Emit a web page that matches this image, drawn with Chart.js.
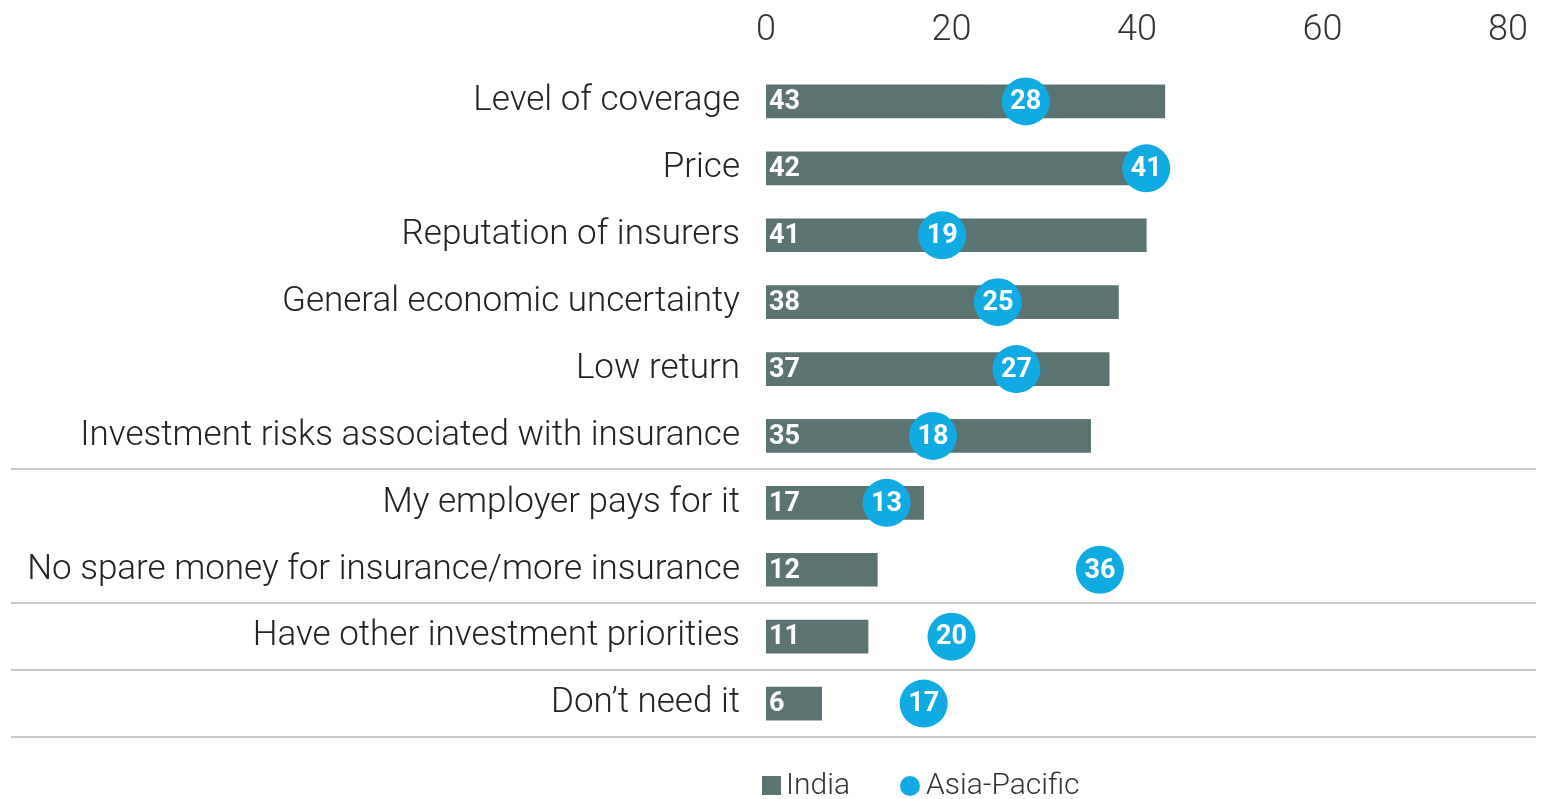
<!DOCTYPE html>
<html>
<head>
<meta charset="utf-8">
<title>Reasons for not buying insurance</title>
<script src="https://cdn.jsdelivr.net/npm/chart.js@4.4.1/dist/chart.umd.min.js"></script>
<style>
  html, body { margin: 0; padding: 0; background: #fff; overflow: hidden; }
  canvas { display: block; }
</style>
</head>
<body>
<canvas id="chart" width="1546" height="799"></canvas>
<script>
const categories = [
  'Level of coverage',
  'Price',
  'Reputation of insurers',
  'General economic uncertainty',
  'Low return',
  'Investment risks associated with insurance',
  'My employer pays for it',
  'No spare money for insurance/more insurance',
  'Have other investment priorities',
  'Don\u2019t need it'
];
const india = [43, 42, 41, 38, 37, 35, 17, 12, 11, 6];
const asiaPacific = [28, 41, 19, 25, 27, 18, 13, 36, 20, 17];
const xTicks = [0, 20, 40, 60, 80];
// separator lines drawn after these category indexes
const groupBreaks = [5, 7, 8, 9];

const BAR = '#5b7472';
const DOT = '#10abe3';
const FONT = 'Roboto, "Liberation Sans", sans-serif';

// value labels on bars and dots, group separators, custom legend
const decorations = {
  id: 'decorations',
  afterDatasetsDraw(chart) {
    const ctx = chart.ctx;
    const y = chart.scales.y;
    const bars = chart.getDatasetMeta(0).data;

    ctx.save();
    ctx.strokeStyle = '#c8c8c8';
    ctx.lineWidth = 2;
    groupBreaks.forEach(i => {
      const py = i + 1 < categories.length
        ? (y.getPixelForValue(i) + y.getPixelForValue(i + 1)) / 2
        : y.getPixelForValue(i) + (y.getPixelForValue(i) - y.getPixelForValue(i - 1)) / 2;
      ctx.beginPath();
      ctx.moveTo(11, Math.round(py));
      ctx.lineTo(1536, Math.round(py));
      ctx.stroke();
    });

    ctx.fillStyle = '#fff';
    ctx.font = 'bold 27px ' + FONT;
    ctx.textBaseline = 'middle';
    ctx.textAlign = 'left';
    bars.forEach((b, i) => {
      ctx.fillText(String(india[i]), b.base + 3, b.y + 1);
    });
    ctx.restore();
  },
  afterDraw(chart) {
    const ctx = chart.ctx;
    const dots = chart.getDatasetMeta(1).data;
    ctx.save();
    ctx.fillStyle = '#fff';
    ctx.font = 'bold 27px ' + FONT;
    ctx.textBaseline = 'middle';
    ctx.textAlign = 'center';
    dots.forEach((p, i) => {
      ctx.fillText(String(asiaPacific[i]), p.x, p.y + 1);
    });

    // legend
    const ly = 786;
    const lx = chart.scales.x.left - 4;
    ctx.fillStyle = BAR;
    ctx.fillRect(lx, ly - 10, 19, 19);
    ctx.fillStyle = '#333';
    ctx.font = '300 30px ' + FONT;
    ctx.textAlign = 'left';
    ctx.fillText(chart.data.datasets[0].label, lx + 24, ly);
    ctx.fillStyle = DOT;
    ctx.beginPath();
    ctx.arc(lx + 148, ly, 10, 0, Math.PI * 2);
    ctx.fill();
    ctx.fillStyle = '#333';
    ctx.fillText(chart.data.datasets[1].label, lx + 164, ly);
    ctx.restore();
  }
};

new Chart(document.getElementById('chart'), {
  type: 'bar',
  data: {
    labels: categories,
    datasets: [{
      label: 'India',
      data: india,
      backgroundColor: BAR,
      barThickness: 33,
      order: 2
    }, {
      type: 'line',
      label: 'Asia-Pacific',
      data: asiaPacific,
      indexAxis: 'y',
      showLine: false,
      pointRadius: 24,
      pointHoverRadius: 24,
      pointBackgroundColor: DOT,
      pointBorderWidth: 0,
      order: 1
    }]
  },
  options: {
    indexAxis: 'y',
    responsive: false,
    animation: false,
    devicePixelRatio: 1,
    layout: { padding: { top: 0, right: 38, bottom: 62, left: 0 } },
    plugins: {
      legend: { display: false },
      tooltip: { enabled: false }
    },
    scales: {
      x: {
        position: 'top',
        min: 0,
        max: 80,
        afterBuildTicks(scale) {
          scale.ticks = xTicks.map(v => ({ value: v }));
        },
        afterFit(scale) { scale.height = 68; },
        grid: { display: false, drawTicks: false },
        border: { display: false },
        ticks: {
          color: '#333',
          padding: 15,
          maxRotation: 0,
          font: { family: FONT, size: 36, weight: '300' }
        }
      },
      y: {
        afterFit(scale) { scale.width = 766; },
        grid: { display: false, drawTicks: false },
        border: { display: false },
        ticks: {
          color: '#222',
          padding: 26,
          font: { family: FONT, size: 35, weight: '300' }
        }
      }
    }
  },
  plugins: [decorations]
});
</script>
</body>
</html>
